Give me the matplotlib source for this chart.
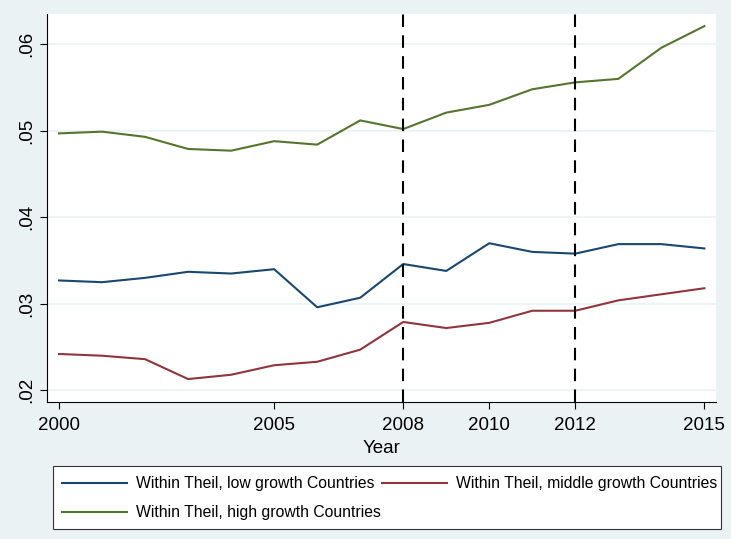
import numpy as np
import matplotlib
matplotlib.use("Agg")
from matplotlib import pyplot as plt
from matplotlib.patches import Rectangle

plt.rcParams['font.family'] = ['Liberation Sans', 'DejaVu Sans']

years = list(range(2000, 2016))
theil_low = [0.0327, 0.0325, 0.0330, 0.0337, 0.0335, 0.0340, 0.0296, 0.0307,
             0.0346, 0.0338, 0.0370, 0.0360, 0.0358, 0.0369, 0.0369, 0.0364]
theil_mid = [0.0242, 0.0240, 0.0236, 0.0213, 0.0218, 0.0229, 0.0233, 0.0247,
             0.0279, 0.0272, 0.0278, 0.0292, 0.0292, 0.0304, 0.0311, 0.0318]
theil_high = [0.0497, 0.0499, 0.0493, 0.0479, 0.0477, 0.0488, 0.0484, 0.0512,
              0.0502, 0.0521, 0.0530, 0.0548, 0.0556, 0.0560, 0.0596, 0.0621]
etiquetas = ["Within Theil, low growth Countries",
             "Within Theil, middle growth Countries",
             "Within Theil, high growth Countries"]
xticks = [2000, 2005, 2008, 2010, 2012, 2015]
yticks = [0.02, 0.03, 0.04, 0.05, 0.06]
ytick_labels = [".02", ".03", ".04", ".05", ".06"]
cortes = [2008, 2012]

fondo = "#eaf2f3"
colores = ["#1a476f", "#90353b", "#55752f"]

fig = plt.figure(figsize=(7.31, 5.39), dpi=100, facecolor=fondo)
ax = fig.add_axes([47/731, 1-402/539, (716-47)/731, (402-14)/539])
ax.set_facecolor("white")

for y in yticks:
    ax.axhline(y, color=fondo, lw=1.2, zorder=0)

lineas = []
for serie, color, etiqueta in zip([theil_low, theil_mid, theil_high], colores, etiquetas):
    l, = ax.plot(years, serie, color=color, lw=1.5, label=etiqueta)
    lineas.append(l)

for c in cortes:
    ax.axvline(c, color="black", lw=1.5, linestyle=(0, (6, 4)))

ax.set_xlim(1999.72, 2015.27)
ax.set_ylim(0.01865, 0.0635)
ax.set_xticks(xticks)
ax.set_xticklabels([str(x) for x in xticks], fontsize=13.5)
ax.set_yticks(yticks)
ax.set_yticklabels(ytick_labels, fontsize=13.5, rotation=90, va="center")
ax.tick_params(direction="out", length=5, color="black")
ax.tick_params(axis="x", pad=6)
ax.set_xlabel("Year", fontsize=13.5, labelpad=4)

ax.spines['top'].set_visible(False)
ax.spines['right'].set_visible(False)

# marco de la leyenda aparte para controlar los margenes
marco = Rectangle((53/731, 1-529/539), 668/731, 63/539, transform=fig.transFigure,
                  facecolor="white", edgecolor="#333333", lw=0.8, zorder=-1)
fig.patches.append(marco)

# orden para que quede low, middle arriba y high abajo
leg = fig.legend([lineas[0], lineas[2], lineas[1]],
                 [etiquetas[0], etiquetas[2], etiquetas[1]],
                 ncol=2, loc="upper left",
                 bbox_to_anchor=(62/731, 1-476/539-0.01, 655/731, 0.01),
                 mode="expand", fontsize=11.3, frameon=False,
                 handlelength=4.15, handletextpad=0.55, labelspacing=0.9,
                 borderpad=0, borderaxespad=0)

plt.savefig("out.png", dpi=100, facecolor=fondo)
